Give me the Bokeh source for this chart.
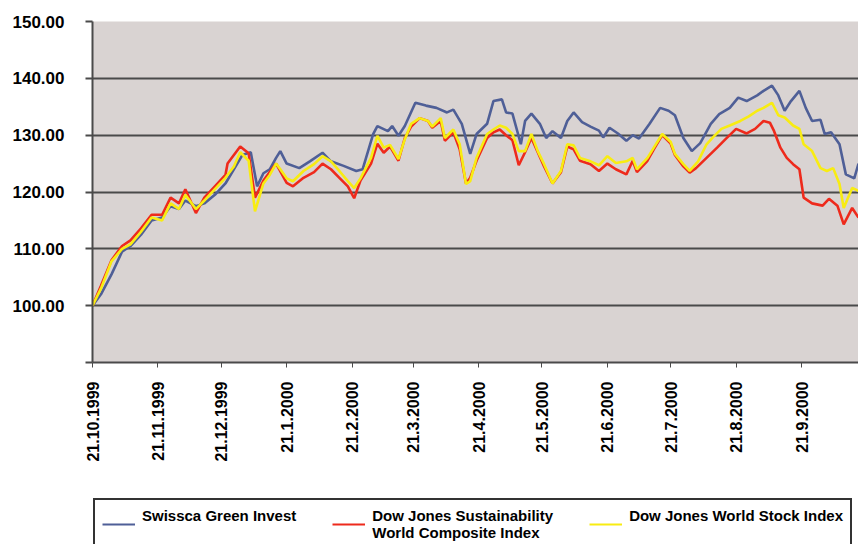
import math
from datetime import date
from bokeh.plotting import figure
from bokeh.layouts import column
from bokeh.models import FixedTicker, Legend, LegendItem, Range1d, NumeralTickFormatter
from bokeh.embed import file_html
from bokeh.resources import INLINE

# ---- data ----
start_date = date(1999, 10, 21)
tick_labels = ["21.10.1999", "21.11.1999", "21.12.1999", "21.1.2000", "21.2.2000",
               "21.3.2000", "21.4.2000", "21.5.2000", "21.6.2000", "21.7.2000",
               "21.8.2000", "21.9.2000"]
y_ticks = [90, 100, 110, 120, 130, 140, 150]

# days since 21.10.1999
sgi_day = [0, 4, 9, 14, 18, 23, 28, 33, 37, 41, 44, 49, 53, 58, 63, 67, 71, 75, 78, 81, 84, 87, 89, 92,
           98, 103, 109, 113, 119, 125, 128, 133, 135, 140, 142, 145, 148, 153, 158, 163, 168, 171, 175,
           179, 182, 187, 190, 194, 196, 199, 203, 205, 208, 212, 215, 218, 222, 225, 228, 232, 236, 240,
           242, 245, 249, 253, 256, 259, 264, 269, 273, 276, 280, 284, 288, 293, 297, 302, 306, 310, 315,
           318, 322, 325, 328, 331, 335, 338, 341, 345, 347, 350, 354, 357, 361, 363]
sgi_val = [100, 102, 105.5, 109.5, 110.5, 112.5, 115, 115.5, 117.5, 117, 118.5, 117.5, 118, 119.5, 121.5,
           124, 126.5, 127, 121, 123.3, 124, 126, 127.2, 125, 124.2, 125.4, 126.9, 125.4, 124.6, 123.7, 124,
           130.2, 131.6, 130.7, 131.6, 129.9, 131.6, 135.7, 135.2, 134.8, 134, 134.5, 132, 126.7, 130.2, 132,
           136, 136.3, 134, 133.8, 128.4, 132.5, 133.8, 132, 129.5, 130.7, 129.5, 132.5, 134, 132.3, 131.5,
           130.8, 129.6, 131.3, 130.3, 129, 130, 129.4, 132, 134.8, 134.3, 133.5, 129.5, 127.2, 128.6, 132,
           133.7, 134.8, 136.6, 136, 137, 137.8, 138.7, 137, 134.3, 136, 137.8, 134.8, 132.5, 132.7, 130.2,
           130.5, 128.4, 123.1, 122.4, 125]

djsi_day = [0, 4, 9, 14, 18, 23, 28, 33, 37, 41, 44, 49, 53, 58, 63, 64, 70, 74, 77, 81, 87, 92, 95, 100,
            105, 109, 113, 117, 121, 124, 127, 132, 135, 138, 141, 145, 148, 151, 155, 159, 161, 165, 167,
            171, 174, 177, 179, 182, 187, 190, 193, 196, 199, 202, 205, 208, 211, 214, 218, 222, 225, 228,
            231, 236, 240, 244, 248, 253, 256, 258, 263, 266, 270, 274, 276, 280, 283, 286, 291, 296, 300,
            305, 310, 314, 318, 321, 323, 326, 329, 332, 335, 337, 341, 346, 349, 353, 356, 360, 363]
djsi_val = [100, 103.5, 108, 110.5, 111.5, 113.6, 116, 116, 119, 118, 120.5, 116.3, 119, 121, 123, 125,
            128, 126.8, 119, 122, 125, 121.6, 121, 122.5, 123.5, 125, 124, 122.5, 121, 118.9, 122, 125,
            128.5, 126.9, 128, 125.5, 129.5, 131.5, 133, 132.5, 131.3, 132.5, 129, 130.5, 127.5, 121.5,
            122.5, 125.5, 129.5, 130.5, 131, 130, 129.1, 124.7, 127, 129.5, 127, 124.5, 121.5, 123.5, 128,
            127.5, 125.5, 124.9, 123.7, 125, 124, 123.1, 125.5, 123.5, 125.5, 127.5, 130, 128.5, 126.5,
            124.5, 123.4, 124.2, 126, 127.8, 129.3, 131.1, 130.3, 131.1, 132.5, 132.2, 130.7, 127.8, 126,
            124.9, 124, 119, 118, 117.6, 118.8, 117.6, 114.3, 117.2, 115.5]

djw_day = [0, 4, 9, 14, 18, 23, 28, 33, 37, 41, 44, 49, 53, 58, 63, 67, 70, 74, 77, 81, 84, 87, 89, 92,
           95, 100, 105, 109, 113, 117, 121, 124, 127, 132, 135, 138, 141, 145, 148, 151, 155, 159, 161,
           165, 167, 171, 174, 177, 179, 182, 187, 190, 193, 196, 199, 202, 205, 208, 211, 214, 218, 222,
           225, 228, 231, 236, 240, 244, 248, 253, 256, 258, 263, 266, 270, 274, 276, 280, 283, 287, 291,
           294, 298, 302, 307, 311, 315, 318, 322, 325, 328, 332, 335, 337, 341, 345, 348, 351, 354, 356,
           360, 363]
djw_val = [100, 103, 107.8, 110, 110.8, 113, 115.5, 115, 118, 117, 119.5, 117, 118.5, 120.5, 122.5, 124.5,
           127, 125.5, 116.6, 121.5, 123, 125, 124, 122.4, 121.9, 123.7, 124.9, 126.3, 125.4, 123.7, 121.9,
           120.7, 122.4, 126, 129.9, 127.8, 128.3, 125.8, 129.3, 132, 133, 132.5, 131.5, 133, 129.5, 131,
           128.4, 121.4, 121.9, 126, 130.2, 131, 131.7, 131.3, 130.2, 127.2, 127.2, 130.2, 127.2, 124.9,
           121.5, 123.7, 128.4, 128.2, 126, 125.4, 124.7, 126.3, 125.1, 125.4, 126, 124, 126, 127.8, 130.2,
           128.8, 126.7, 124.9, 123.7, 125.4, 128.4, 129.6, 131.1, 131.7, 132.5, 133.3, 134.3, 134.8, 135.7,
           133.5, 133.1, 131.7, 131.1, 128.4, 127.2, 124.2, 123.7, 124.2, 121.4, 117.2, 120.7, 120.2]

series_names = ["Swissca Green Invest", "Dow Jones Sustainability\nWorld Composite Index",
                "Dow Jones World Stock Index"]
series_colors = ["#4f5f97", "#ee2a1c", "#f8ec12"]
series_days = [sgi_day, djsi_day, djw_day]
series_vals = [sgi_val, djsi_val, djw_val]


def parse_label(s):
    d, m, y = (int(v) for v in s.split("."))
    return date(y, m, d)


tick_days = [(parse_label(s) - start_date).days for s in tick_labels]

FONT = "Liberation Sans"
DARK = "#4a4a4a"

p = figure(width=858, height=497, output_backend="svg", toolbar_location=None,
           x_range=Range1d(0, 363), y_range=Range1d(90, 150),
           min_border_left=92, min_border_right=0, min_border_top=21, min_border_bottom=135)

p.background_fill_color = "#d9d3d2"
p.border_fill_color = "white"
p.outline_line_color = None

# y axis
p.yaxis.ticker = FixedTicker(ticks=y_ticks)
p.yaxis.formatter = NumeralTickFormatter(format="0.00")
p.yaxis.major_label_overrides = {y_ticks[0]: ""}
p.yaxis.axis_line_color = DARK
p.yaxis.axis_line_width = 2
p.yaxis.major_tick_line_color = DARK
p.yaxis.major_tick_line_width = 2
p.yaxis.major_tick_out = 7
p.yaxis.major_tick_in = 0
p.yaxis.minor_tick_line_color = None
p.yaxis.major_label_standoff = 21
p.yaxis.major_label_text_font = FONT
p.yaxis.major_label_text_font_style = "bold"
p.yaxis.major_label_text_font_size = "17px"
p.yaxis.major_label_text_color = "black"

p.ygrid.ticker = FixedTicker(ticks=y_ticks)
p.ygrid.grid_line_color = DARK
p.ygrid.grid_line_width = 2
p.xgrid.visible = False

# x axis
p.xaxis.ticker = FixedTicker(ticks=tick_days)
p.xaxis.major_label_overrides = {d: s for d, s in zip(tick_days, tick_labels)}
p.xaxis.major_label_orientation = math.pi / 2
p.xaxis.axis_line_color = DARK
p.xaxis.axis_line_width = 2
p.xaxis.major_tick_line_color = DARK
p.xaxis.major_tick_line_width = 1
p.xaxis.major_tick_out = 5
p.xaxis.major_tick_in = 0
p.xaxis.minor_tick_line_color = None
p.xaxis.major_label_standoff = 14
p.xaxis.major_label_text_font = FONT
p.xaxis.major_label_text_font_style = "bold"
p.xaxis.major_label_text_font_size = "16px"
p.xaxis.major_label_text_color = "black"

for d, v, c in zip(series_days, series_vals, series_colors):
    p.line(d, v, line_color=c, line_width=2.6)

# ---- legend strip below the chart ----
lg = figure(width=858, height=47, output_backend="svg", toolbar_location=None,
            x_range=Range1d(0, 1), y_range=Range1d(0, 1), x_axis_location=None, y_axis_location=None,
            min_border_left=78, min_border_right=0, min_border_top=0, min_border_bottom=0)
lg.grid.visible = False
lg.outline_line_color = None
lg.background_fill_color = "white"
lg.border_fill_color = "white"
# same series, outside this strip's ranges: only their legend samples show
lg_renderers = [lg.line(d, v, line_color=c, line_width=2)
                for d, v, c in zip(series_days, series_vals, series_colors)]

# pad single-line labels to two lines so every label's first line sits at the top
legend_labels = [n if "\n" in n else n + "\n " for n in series_names]
legend = Legend(items=[LegendItem(label=n, renderers=[r]) for n, r in zip(legend_labels, lg_renderers)],
                orientation="horizontal", location="top_left")
legend.border_line_color = "#333333"
legend.border_line_alpha = 1
legend.border_line_width = 2
legend.background_fill_color = "white"
legend.background_fill_alpha = 1
legend.label_text_font = FONT
legend.label_text_font_style = "bold"
legend.label_text_font_size = "15px"
legend.label_text_color = "black"
legend.label_text_line_height = 1.2
legend.label_standoff = 7
legend.glyph_width = 33
legend.glyph_height = 14
legend.spacing = 36
legend.padding = 7
legend.margin = 1
lg.add_layout(legend, "center")

layout = column(p, lg, spacing=0)
open("out.html", "w").write(file_html(layout, INLINE))
